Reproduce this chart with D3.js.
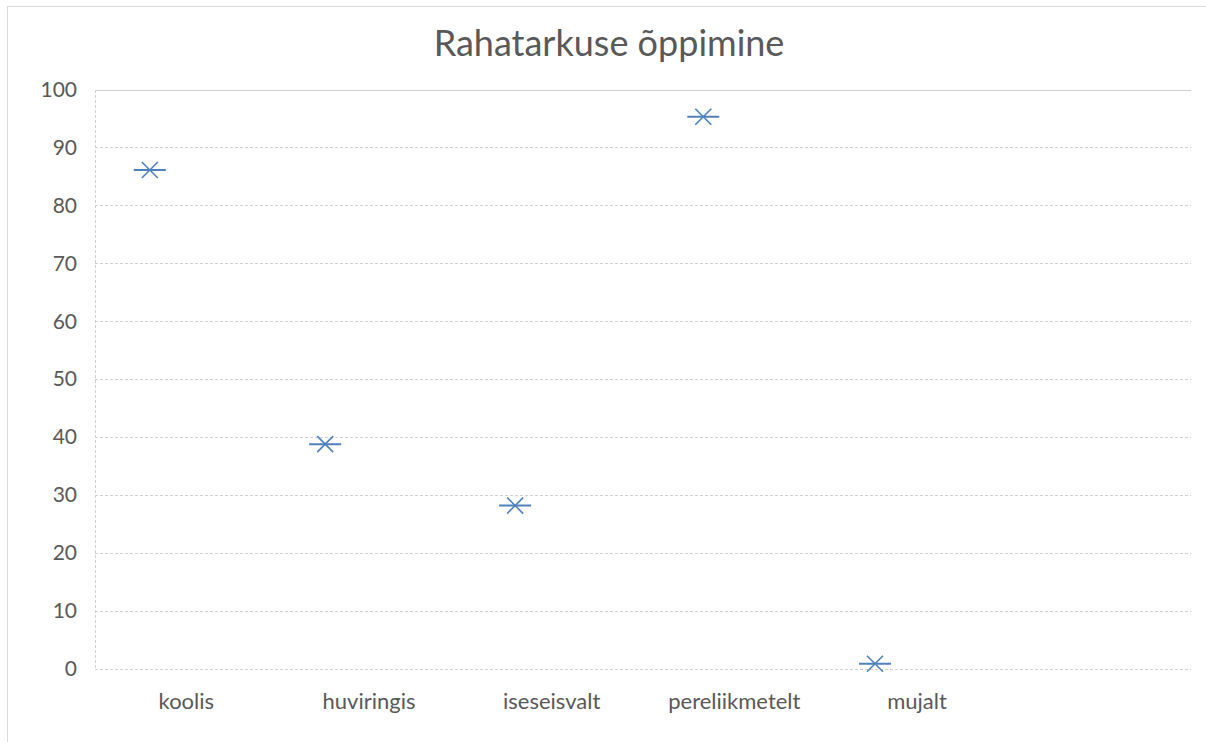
<!DOCTYPE html>
<html>
<head>
<meta charset="utf-8">
<script src="https://cdn.jsdelivr.net/npm/d3@7"></script>
<style>
  html, body { margin: 0; padding: 0; background: #fff; }
  svg { display: block; }
</style>
</head>
<body>
<svg id="chart" width="1206" height="742"></svg>
<script>
const categories = ["koolis", "huviringis", "iseseisvalt", "pereliikmetelt", "mujalt", ""];
const values = [86.1, 38.8, 28.2, 95.3, 0.9];
// horizontal positions of the markers, in category units
const xPositions = [0.30, 1.26, 2.30, 3.33, 4.27];
const yTicks = [0, 10, 20, 30, 40, 50, 60, 70, 80, 90, 100];
const title = "Rahatarkuse õppimine";

const svg = d3.select("#chart");
const W = 1206, H = 742;
const margin = { left: 95, right: 15, top: 89.5, bottom: 73 };
const innerW = W - margin.left - margin.right;
const innerH = H - margin.top - margin.bottom;
const FONT = "Lato, 'Open Sans', sans-serif";

// chart border
svg.append("rect")
  .attr("x", 7.5).attr("y", 6.5)
  .attr("width", W + 10).attr("height", H + 10)
  .attr("fill", "none").attr("stroke", "#d9d9d9").attr("stroke-width", 1);

svg.append("text")
  .attr("x", 609).attr("y", 56)
  .attr("text-anchor", "middle")
  .attr("font-family", FONT)
  .attr("font-size", 36)
  .attr("fill", "#595959")
  .text(title);

const g = svg.append("g").attr("transform", `translate(${margin.left},${margin.top})`);

const x = d3.scaleBand().domain(categories.map((c, i) => i)).range([0, innerW]).padding(0);
const xLin = d3.scaleLinear().domain([0, categories.length]).range([0, innerW]);
const y = d3.scaleLinear().domain([0, 100]).range([innerH, 0]);

// gridlines
const yAxis = d3.axisLeft(y).tickValues(yTicks).tickSize(-innerW).tickPadding(18).tickFormat(d3.format("d"));
const ga = g.append("g").call(yAxis);
ga.select(".domain").remove();
ga.selectAll(".tick line")
  .attr("stroke", "#d0d0d0")
  .attr("stroke-width", 1)
  .attr("stroke-dasharray", d => d === 100 ? null : "3,2")
  .attr("shape-rendering", "crispEdges");
ga.selectAll(".tick text")
  .attr("font-family", FONT)
  .attr("font-size", 21)
  .attr("fill", "#595959");

// left axis line (dashed)
g.append("line")
  .attr("x1", 0.5).attr("x2", 0.5)
  .attr("y1", 0).attr("y2", innerH)
  .attr("stroke", "#d0d0d0").attr("stroke-dasharray", "3,2")
  .attr("shape-rendering", "crispEdges");

// category labels
const xAxis = d3.axisBottom(x).tickSize(0).tickPadding(24).tickFormat(i => categories[i]);
const gx = g.append("g").attr("transform", `translate(0,${innerH})`).call(xAxis);
gx.select(".domain").remove();
gx.selectAll(".tick text")
  .attr("font-family", FONT)
  .attr("font-size", 22)
  .attr("fill", "#595959");

// star markers
const color = "#4f81bd";
const marks = g.selectAll(".mark").data(values).enter().append("g")
  .attr("class", "mark")
  .attr("transform", (d, i) => `translate(${xLin(xPositions[i])},${y(d)})`);
marks.append("line").attr("x1", -16).attr("x2", 16).attr("y1", 0).attr("y2", 0)
  .attr("stroke", color).attr("stroke-width", 2);
marks.append("line").attr("x1", -8).attr("x2", 8).attr("y1", -8).attr("y2", 8)
  .attr("stroke", color).attr("stroke-width", 1.6);
marks.append("line").attr("x1", -8).attr("x2", 8).attr("y1", 8).attr("y2", -8)
  .attr("stroke", color).attr("stroke-width", 1.6);
</script>
</body>
</html>
